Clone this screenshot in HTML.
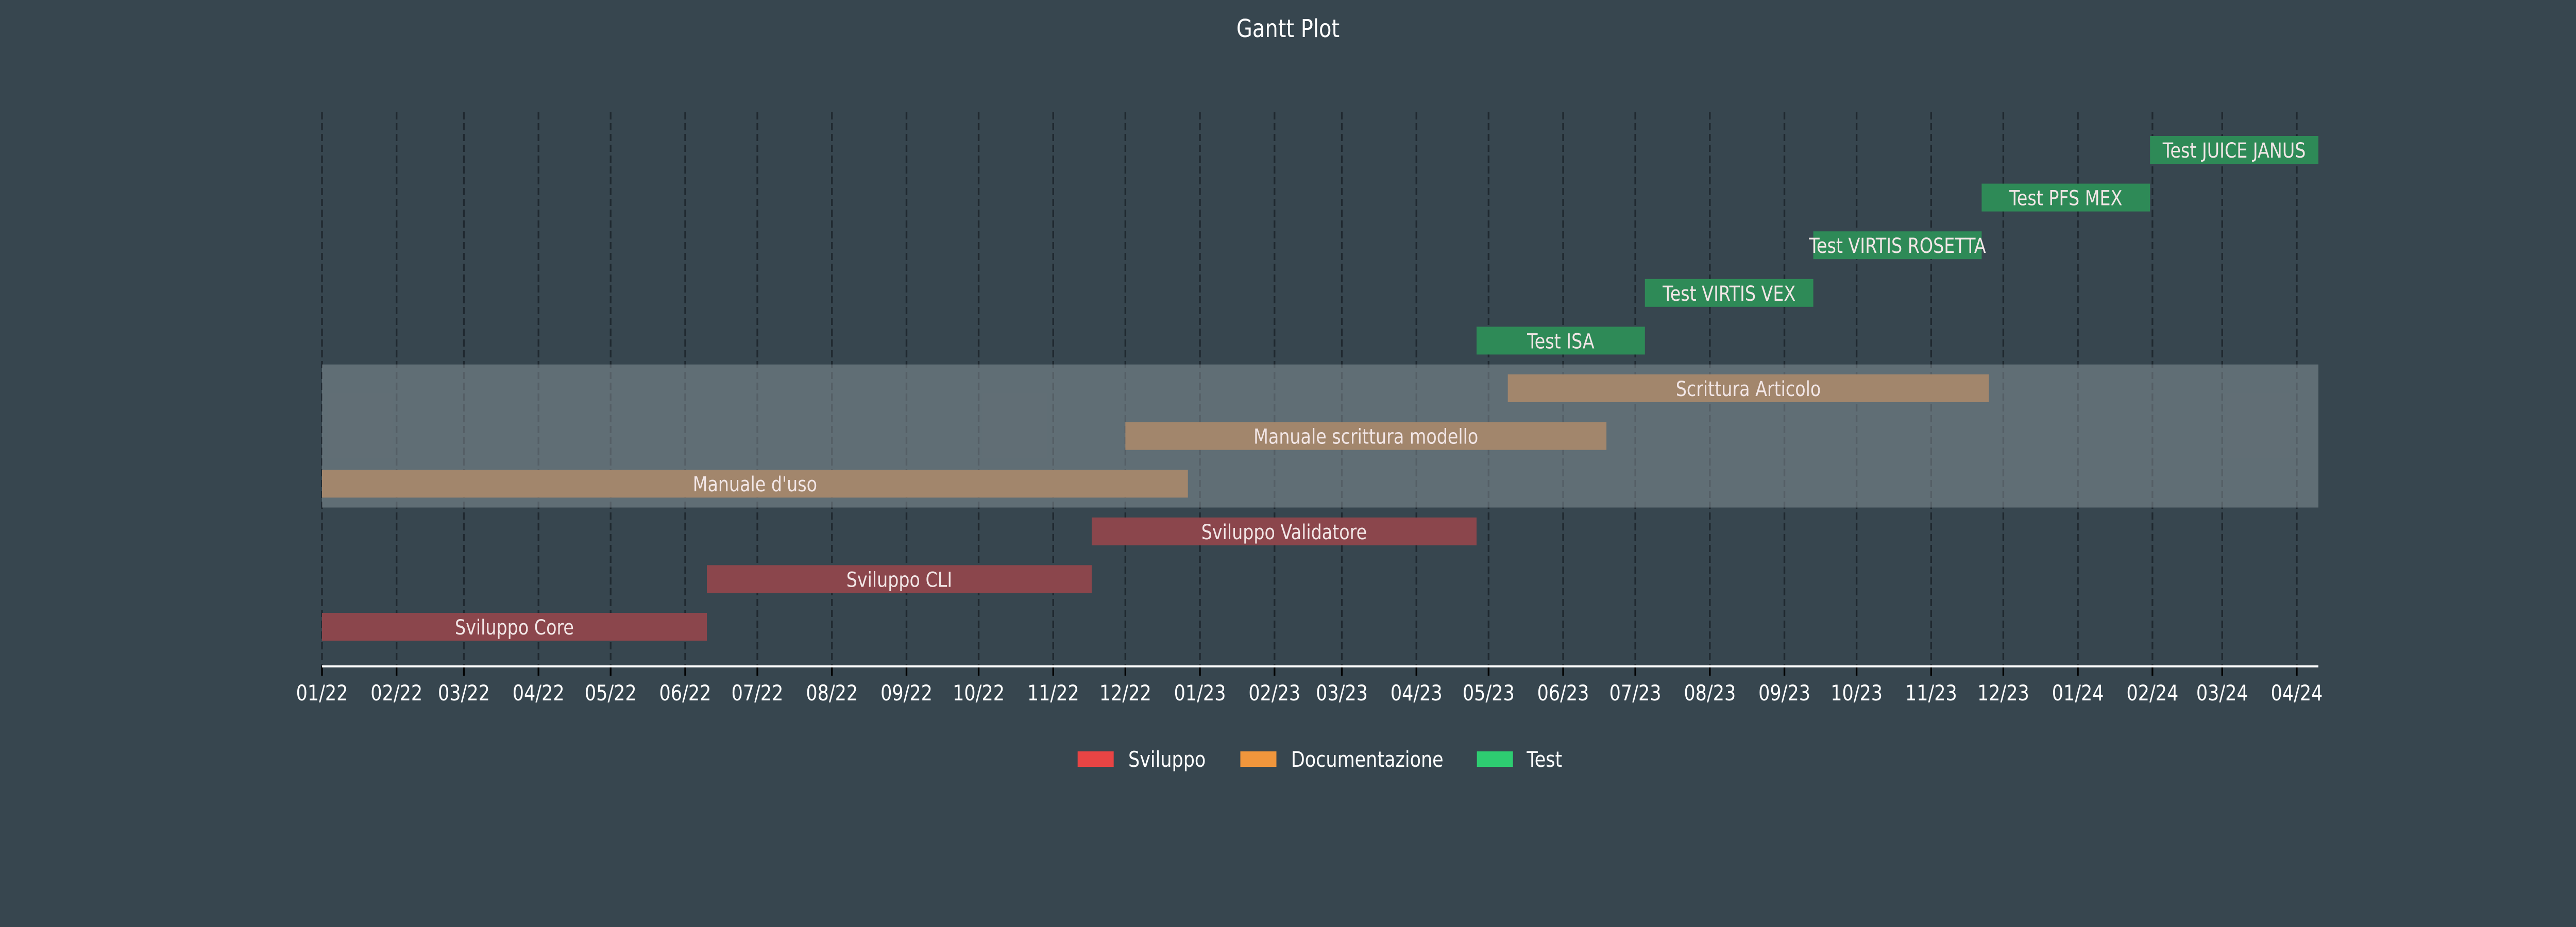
<!DOCTYPE html>
<html><head><meta charset="utf-8"><style>
html,body{margin:0;padding:0;background:#37464f;width:100%;height:100%;overflow:hidden;}
svg{display:block;width:100vw;height:100vh;font-family:"DejaVu Sans","Liberation Sans",sans-serif;}
</style></head><body>
<svg id="chart" viewBox="0 0 6000 1800" preserveAspectRatio="none" xmlns="http://www.w3.org/2000/svg">
<rect x="0" y="0" width="6000" height="1800" fill="#37464f"/>
<text x="3000" y="72" font-size="48" fill="#ffffff" text-anchor="middle">Gantt Plot</text>
<g id="grid"></g><g id="band"></g><g id="bars"></g><g id="axis"></g>
<g>
<rect x="2510" y="1459" width="84" height="30" fill="#e84444"/>
<text x="2628" y="1489" font-size="42" fill="#ffffff">Sviluppo</text>
<rect x="2889" y="1459" width="84" height="30" fill="#f0963c"/>
<text x="3007" y="1489" font-size="42" fill="#ffffff">Documentazione</text>
<rect x="3440" y="1459" width="84" height="30" fill="#2ecc71"/>
<text x="3556" y="1489" font-size="42" fill="#ffffff">Test</text>
</g>
</svg>
<script>
// data (days since 2022-01-01)
const tasks = ["Sviluppo Core","Sviluppo CLI","Sviluppo Validatore","Manuale d'uso","Manuale scrittura modello","Scrittura Articolo","Test ISA","Test VIRTIS VEX","Test VIRTIS ROSETTA","Test PFS MEX","Test JUICE JANUS"];
const startDays = [0,160,320,0,334,493,480,550,620,690,760];
const endDays = [160,320,480,360,534,693,550,620,690,760,830];
const categories = ["dev","dev","dev","doc","doc","doc","test","test","test","test","test"];
const tickLabels = ["01/22","02/22","03/22","04/22","05/22","06/22","07/22","08/22","09/22","10/22","11/22","12/22","01/23","02/23","03/23","04/23","05/23","06/23","07/23","08/23","09/23","10/23","11/23","12/23","01/24","02/24","03/24","04/24"];
const domainEnd = 830;

const NS="http://www.w3.org/2000/svg";
const X0=750,X1=5400,AXY=1294,TOP=218;
function x(d){return X0+(X1-X0)*d/domainEnd;}
function y(i){return 1217-i*92.6;}
function dayOfTick(lbl){const m=+lbl.slice(0,2)-1,yr=2000+ +lbl.slice(3);return (Date.UTC(yr,m,1)-Date.UTC(2022,0,1))/86400000;}
function mk(tag,attrs,parent){const e=document.createElementNS(NS,tag);for(const k in attrs)e.setAttribute(k,attrs[k]);parent.appendChild(e);return e;}
const colors={dev:"#8b464c",doc:"#a2866c",test:"#2e8a57"};
const grid=document.getElementById('grid'),axis=document.getElementById('axis'),bars=document.getElementById('bars'),band=document.getElementById('band');
tickLabels.forEach(l=>{
  const xx=x(dayOfTick(l));
  const g=mk('line',{x1:xx,x2:xx,y1:TOP,y2:AXY,stroke:"#1a2228","stroke-width":4,"stroke-dasharray":"14 7","stroke-opacity":0.8},grid);
  
  
  const t=mk('line',{x1:xx,x2:xx,y1:AXY,y2:AXY+18,stroke:"#000",'stroke-width':4},axis);
  
  
  const tx=mk('text',{x:xx,y:AXY+66,'font-size':42,fill:"#ffffff",'text-anchor':'middle'},axis);
  tx.textContent=l;
  
  
});
const bd=mk('rect',{x:X0,y:(y(5)+y(6))/2,width:X1-X0,height:y(2)-y(5),fill:"#8a959b","fill-opacity":0.5},band);


const ax=mk('line',{x1:X0,x2:X1,y1:AXY,y2:AXY,stroke:"#ffffff",'stroke-width':4},axis);


tasks.forEach((name,i)=>{
  const x0=x(startDays[i]),x1=x(endDays[i]);
  const r=mk('rect',{x:x0,y:y(i)-27,width:x1-x0,height:54,fill:colors[categories[i]]},bars);
  
  
  const t=mk('text',{x:(x0+x1)/2,y:y(i)+15,'font-size':40,fill:"#f2e6e6",'text-anchor':'middle'},bars);
  t.textContent=name;
  
  
});
</script>
</body></html>
